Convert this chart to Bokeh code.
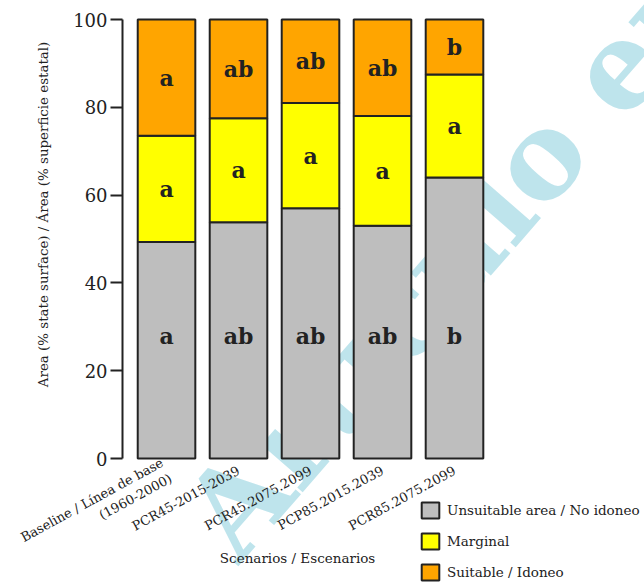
from bokeh.plotting import figure
from bokeh.models import Range1d, Legend, LegendItem, Label, ColumnDataSource, FixedTicker
from bokeh.core.properties import value
from bokeh.embed import file_html
from bokeh.resources import INLINE

# ---- data ----
scenarios = ["Baseline / Línea de base\n(1960-2000)", "PCR45-2015-2039",
             "PCR45.2075.2099", "PCP85.2015.2039", "PCR85.2075.2099"]
unsuitable = [49.3, 53.8, 57.0, 53.0, 64.0]
marginal = [24.2, 23.7, 24.0, 25.0, 23.5]
suitable = [26.5, 22.5, 19.0, 22.0, 12.5]
letters_unsuitable = ["a", "ab", "ab", "ab", "b"]
letters_marginal = ["a", "a", "a", "a", "a"]
letters_suitable = ["a", "ab", "ab", "ab", "b"]
series_names = ["Unsuitable area / No idoneo", "Marginal", "Suitable / Idoneo"]
y_ticks = [0, 20, 40, 60, 80, 100]
x_title = "Scenarios / Escenarios"
y_title = "Area (% state surface) / Área (% superficie estatal)"

colors = ["#bebebe", "#ffff00", "#ffa500"]
SERIF = "DejaVu Serif"
INK = "#222222"

xs = list(range(len(scenarios)))
src = ColumnDataSource(dict(x=xs, unsuitable=unsuitable,
                            marginal=marginal, suitable=suitable))

# the frame spans the whole canvas; axes are pinned with fixed_location
p = figure(width=644, height=583, output_backend="svg", toolbar_location=None,
           x_range=Range1d(-2.306, 6.639), y_range=Range1d(-28.47, 104.33),
           min_border_left=0, min_border_right=0,
           min_border_top=0, min_border_bottom=0)
p.outline_line_color = None
p.xgrid.visible = False
p.ygrid.visible = False

# watermark (behind bars)
p.add_layout(Label(x=0.56, y=-18.0, text="Artículo en prensa", angle=49,
                   angle_units="deg", text_font=SERIF, text_font_style="bold",
                   text_font_size="120px", text_color="#bee4ec",
                   text_align="left", text_baseline="alphabetic",
                   level="underlay"))

rs = p.vbar_stack(["unsuitable", "marginal", "suitable"], x="x", width=0.8,
                  source=src, fill_color=colors, line_color=INK,
                  line_width=2)

# significance letters
bottoms_s = [u + m for u, m in zip(unsuitable, marginal)]
lab = ColumnDataSource(dict(
    x=xs * 3,
    y=[28] * len(xs)
      + [b + m / 2 for b, m in zip(unsuitable, marginal)]
      + [b + s / 2 for b, s in zip(bottoms_s, suitable)],
    t=letters_unsuitable + letters_marginal + letters_suitable))
p.text(x="x", y="y", text="t", source=lab, text_font=value(SERIF),
       text_font_style="bold", text_font_size="22px", text_color=INK,
       text_align="center", text_baseline="middle")

# y axis
ya = p.yaxis[0]
ya.fixed_location = -0.611
ya.bounds = (0, 100)
ya.ticker = FixedTicker(ticks=y_ticks)
ya.minor_tick_line_color = None
ya.major_tick_in = 0
ya.major_tick_out = 12
ya.axis_line_width = 2
ya.major_tick_line_width = 2
ya.axis_line_color = INK
ya.major_tick_line_color = INK
ya.major_label_text_font = SERIF
ya.major_label_text_font_size = "18px"
ya.major_label_text_color = INK
ya.major_label_standoff = 3

p.add_layout(Label(x=-1.708, y=55.6, text=y_title, angle=90, angle_units="deg",
                   text_font=SERIF, text_font_size="13.4px", text_color=INK,
                   text_align="center", text_baseline="middle"))

# x axis
xa = p.xaxis[0]
xa.fixed_location = 0
xa.ticker = FixedTicker(ticks=xs)
xa.major_label_overrides = {i: s for i, s in zip(xs, scenarios)}
xa.axis_line_color = None
xa.major_tick_line_color = None
xa.minor_tick_line_color = None
xa.major_label_orientation = 0.5
xa.major_label_text_font = SERIF
xa.major_label_text_font_size = "13px"
xa.major_label_text_color = INK
xa.major_label_standoff = 5

p.add_layout(Label(x=1.82, y=-22.55, text=x_title,
                   text_font=SERIF, text_font_size="13.5px", text_color=INK,
                   text_align="center", text_baseline="middle"))

legend = Legend(items=[LegendItem(label=n, renderers=[r]) for n, r in zip(series_names, rs)],
                location=(419, 1), orientation="vertical",
                glyph_width=22, glyph_height=20, label_height=20,
                spacing=11, padding=0, margin=0, label_standoff=6,
                label_text_font=SERIF, label_text_font_size="13.5px",
                label_text_color=INK,
                border_line_color=None, background_fill_alpha=0)
p.add_layout(legend, "center")

open("out.html", "w").write(file_html(p, INLINE))
